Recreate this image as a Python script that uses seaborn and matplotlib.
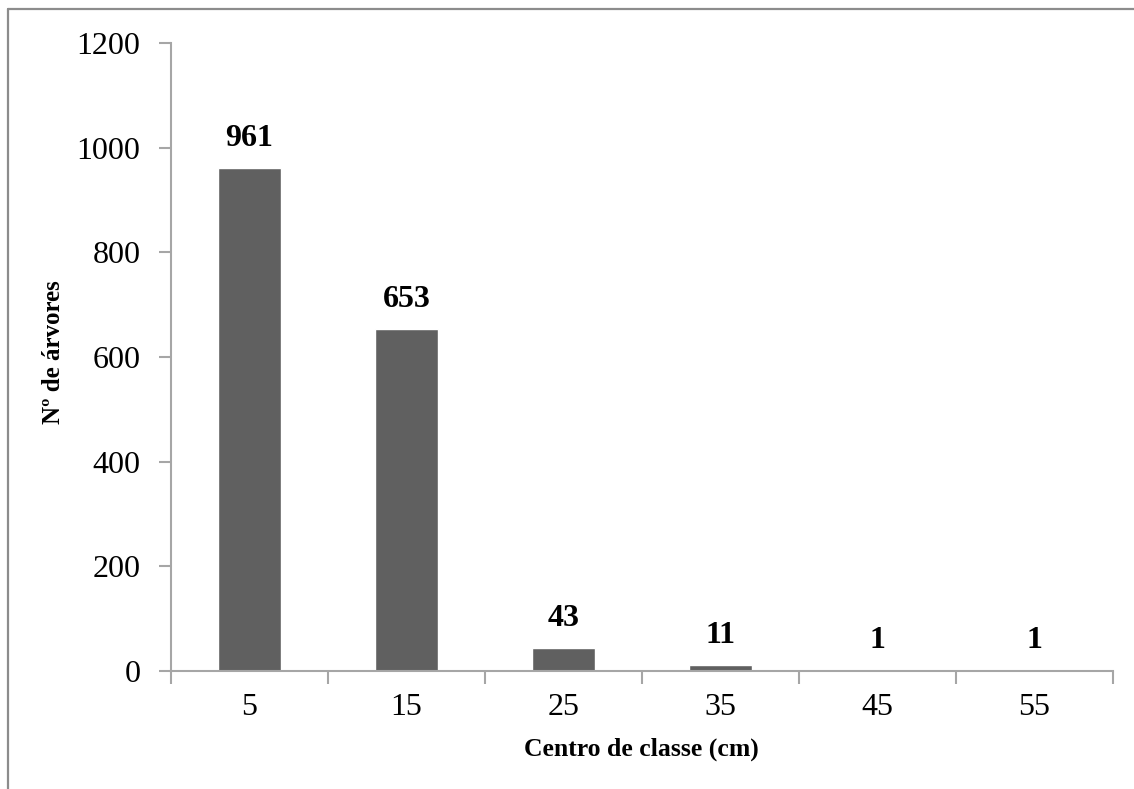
import matplotlib
matplotlib.use("Agg")
import matplotlib.pyplot as plt
from matplotlib.lines import Line2D
import numpy as np
import pandas as pd
import seaborn as sns

# Diameter class centres (cm) and tree counts per class
class_centres = ["5", "15", "25", "35", "45", "55"]
tree_counts = [961, 653, 43, 11, 1, 1]
y_ticks = [0, 200, 400, 600, 800, 1000, 1200]

sns.set_theme(style="white")
plt.rcParams["font.family"] = ["Liberation Serif", "DejaVu Serif"]
plt.rcParams["text.color"] = "black"

W, H = 1134, 789
fig = plt.figure(figsize=(W / 100, H / 100), dpi=100)
ax = fig.add_axes([171 / W, 1 - 671 / H, (1113 - 171) / W, (671 - 43) / H])

df = pd.DataFrame({"classe": class_centres, "arvores": tree_counts})
sns.barplot(data=df, x="classe", y="arvores", order=class_centres,
            color="#606060", saturation=1, width=0.4, ax=ax)

axis_grey = "#A6A6A6"
ax.set_xlim(-0.5, len(class_centres) - 0.5)
ax.set_ylim(0, 1200)
ax.set_yticks(y_ticks)
ax.set_yticklabels([str(v) for v in y_ticks])

# Category boundary ticks on the x axis, labels centred under the bars
ax.set_xticks(np.arange(len(class_centres)))
ax.set_xticklabels(class_centres)
ax.set_xticks(np.arange(-0.5, len(class_centres)), minor=True)
ax.tick_params(axis="x", which="major", length=0, pad=16, labelsize=23, labelcolor="black")
ax.tick_params(axis="x", which="minor", length=9, width=1.5, color=axis_grey,
               direction="out", bottom=True)
ax.tick_params(axis="y", length=9, width=1.5, color=axis_grey, direction="out",
               pad=13, labelsize=23, labelcolor="black", left=True)

for side in ["top", "right"]:
    ax.spines[side].set_visible(False)
for side in ["left", "bottom"]:
    ax.spines[side].set_color(axis_grey)
    ax.spines[side].set_linewidth(1.5)

ax.set_xlabel("Centro de classe (cm)", fontsize=18.5, fontweight="bold", color="black")
ax.set_ylabel("Nº de árvores", fontsize=18, fontweight="bold", color="black")
ax.xaxis.set_label_coords(0.499, -0.106)
ax.yaxis.set_label_coords(-0.113, 0.508)

# Value labels above each bar
for i, v in enumerate(tree_counts):
    ax.annotate(str(v), xy=(i, v), xytext=(0, 11), textcoords="offset points",
                ha="center", va="bottom", fontsize=23, fontweight="bold", color="black")

# Chart-area frame (left and top edges)
frame_kw = dict(color="#8C8C8C", linewidth=1.6, transform=None)
fig.add_artist(Line2D([8, 8], [0, H - 9], **frame_kw))
fig.add_artist(Line2D([8, W], [H - 9, H - 9], **frame_kw))

fig.savefig("out.png", dpi=100)
